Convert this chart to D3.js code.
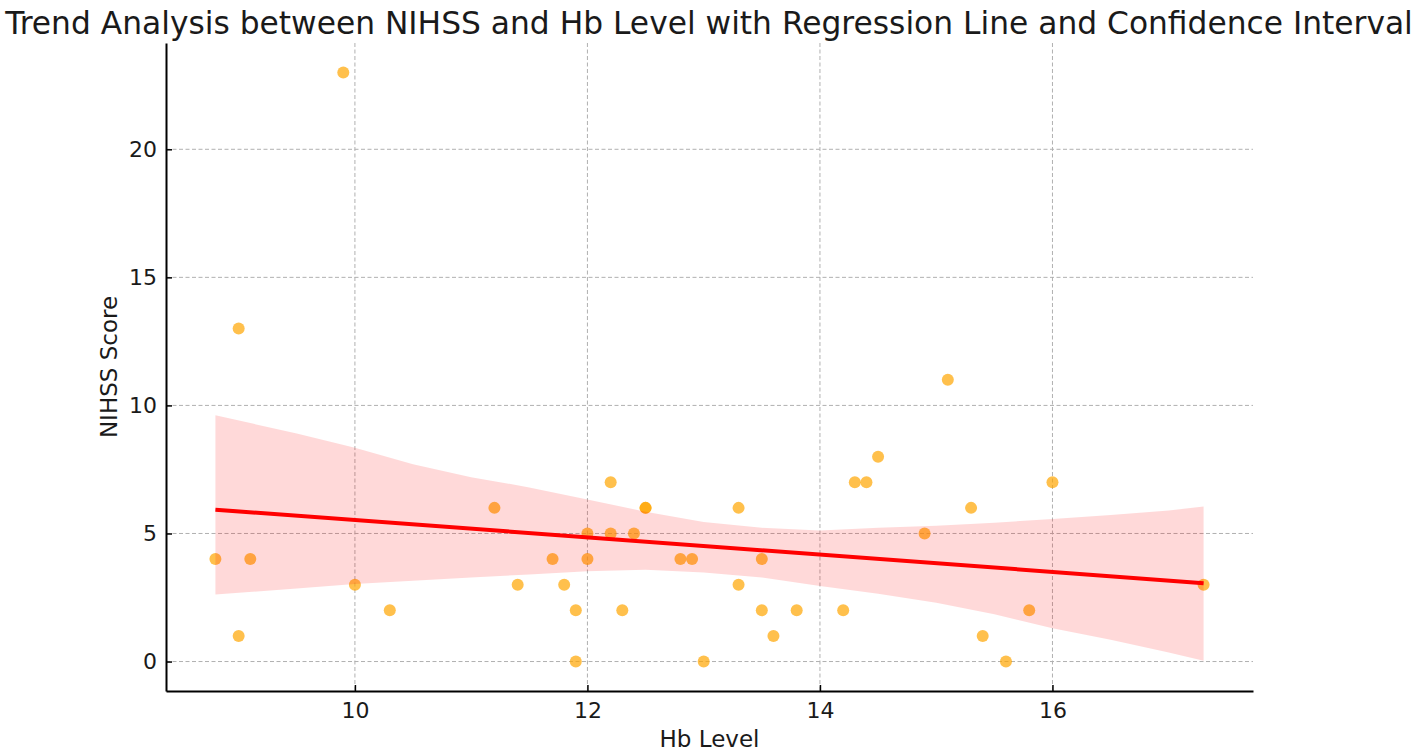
<!DOCTYPE html>
<html>
<head>
<meta charset="utf-8">
<script src="https://cdn.jsdelivr.net/npm/d3@7"></script>
<style>
  body { margin: 0; background: #fff; }
  text { font-family: "DejaVu Sans", sans-serif; }
</style>
</head>
<body>
<svg></svg>
<script>
// Hb level (x) and NIHSS score (y) of each patient
var hbLevel = [8.8, 9.0, 9.0, 9.1, 9.9, 10.0, 10.3, 11.2, 11.4, 11.7, 11.8, 11.9, 11.9, 12.0, 12.0,
	12.2, 12.2, 12.3, 12.4, 12.5, 12.5, 12.8, 12.9, 13.0, 13.3, 13.3, 13.5, 13.5, 13.6, 13.8,
	14.2, 14.3, 14.4, 14.5, 14.9, 15.1, 15.3, 15.4, 15.6, 15.8, 16.0, 17.3];
var nihss = [4, 13, 1, 4, 23, 3, 2, 6, 3, 4, 3, 2, 0, 5, 4,
	7, 5, 2, 5, 6, 6, 4, 4, 0, 6, 3, 4, 2, 1, 2,
	2, 7, 7, 8, 5, 11, 6, 1, 0, 2, 7, 3];

// regression line ends and confidence band
var fitX = [8.8, 17.3];
var fitY = [5.93, 3.06];
var bandX = [8.8, 9.5, 10, 10.5, 11, 11.5, 12, 12.5, 13, 13.5, 14, 14.5, 15, 15.5, 16, 16.5, 17, 17.3];
var bandUpper = [9.62, 8.9, 8.35, 7.7, 7.2, 6.8, 6.33, 5.85, 5.45, 5.22, 5.12, 5.22, 5.3, 5.42, 5.57, 5.72, 5.9, 6.05];
var bandLower = [2.62, 2.85, 3.03, 3.15, 3.28, 3.4, 3.53, 3.58, 3.48, 3.28, 2.95, 2.65, 2.3, 1.85, 1.3, 0.85, 0.35, 0.03];

var xTicks = [10, 12, 14, 16];
var yTicks = [0, 5, 10, 15, 20];

var svgWidth = 1417, svgHeight = 756;
var plotLeft = 166, plotRight = 1253, plotTop = 43, plotBottom = 691;

var svg = d3.select('svg')
	.attr("width", svgWidth)
	.attr("height", svgHeight);

var xScale = d3.scaleLinear()
	.domain([8.375, 17.725])
	.range([plotLeft, plotRight]);

var yScale = d3.scaleLinear()
	.domain([-1.15, 24.15])
	.range([plotBottom, plotTop]);

// dashed grid
svg.selectAll(".vgrid")
	.data(xTicks)
	.enter()
	.append("line")
	.attr("x1", function(d){ return xScale(d); })
	.attr("x2", function(d){ return xScale(d); })
	.attr("y1", plotTop)
	.attr("y2", plotBottom)
	.attr("stroke", "#b0b0b0")
	.attr("stroke-width", 1)
	.attr("stroke-dasharray", "4,2.5");

svg.selectAll(".hgrid")
	.data(yTicks)
	.enter()
	.append("line")
	.attr("x1", plotLeft)
	.attr("x2", plotRight)
	.attr("y1", function(d){ return yScale(d); })
	.attr("y2", function(d){ return yScale(d); })
	.attr("stroke", "#b0b0b0")
	.attr("stroke-width", 1)
	.attr("stroke-dasharray", "4,2.5");

// scatter points
svg.selectAll("circle")
	.data(hbLevel)
	.enter()
	.append("circle")
	.attr("cx", function(d){ return xScale(d); })
	.attr("cy", function(d, i){ return yScale(nihss[i]); })
	.attr("r", 6)
	.attr("fill", "orange")
	.attr("fill-opacity", 0.7);

// confidence band over the points
var area = d3.area()
	.x(function(d){ return xScale(d); })
	.y0(function(d, i){ return yScale(bandLower[i]); })
	.y1(function(d, i){ return yScale(bandUpper[i]); });

svg.append("path")
	.datum(bandX)
	.attr("d", area)
	.attr("fill", "red")
	.attr("fill-opacity", 0.15);

var line = d3.line()
	.x(function(d){ return xScale(d); })
	.y(function(d, i){ return yScale(fitY[i]); });

svg.append("path")
	.datum(fitX)
	.attr("d", line)
	.attr("fill", "none")
	.attr("stroke", "red")
	.attr("stroke-width", 4);

// axes, ticks pointing inward
var x_axis = d3.axisBottom(xScale).tickValues(xTicks).tickSize(-6).tickPadding(11).tickSizeOuter(0);
var y_axis = d3.axisLeft(yScale).tickValues(yTicks).tickSize(-6).tickPadding(9).tickSizeOuter(0);

var gx = svg.append("g")
	.attr("transform", `translate(0, ${plotBottom})`)
	.call(x_axis);

var gy = svg.append("g")
	.attr("transform", `translate(${plotLeft}, 0)`)
	.call(y_axis);

[gx, gy].forEach(function(g){
	g.select(".domain").attr("stroke", "#000").attr("stroke-width", 2);
	g.selectAll(".tick line").attr("stroke", "#000").attr("stroke-width", 1.5);
	g.selectAll(".tick text")
		.attr("fill", "#1a1a1a")
		.style("font-family", "DejaVu Sans")
		.style("font-size", "22px");
});

// titles
svg.append("text")
	.attr("x", 709)
	.attr("y", 34)
	.attr("text-anchor", "middle")
	.attr("fill", "#1a1a1a")
	.style("font-size", "31.3px")
	.text("Trend Analysis between NIHSS and Hb Level with Regression Line and Confidence Interval");

svg.append("text")
	.attr("x", (plotLeft + plotRight) / 2)
	.attr("y", 747)
	.attr("text-anchor", "middle")
	.attr("fill", "#1a1a1a")
	.style("font-size", "23px")
	.text("Hb Level");

svg.append("text")
	.attr("transform", `translate(117, ${(plotTop + plotBottom) / 2}) rotate(-90)`)
	.attr("text-anchor", "middle")
	.attr("fill", "#1a1a1a")
	.style("font-size", "23px")
	.text("NIHSS Score");
</script>
</body>
</html>
